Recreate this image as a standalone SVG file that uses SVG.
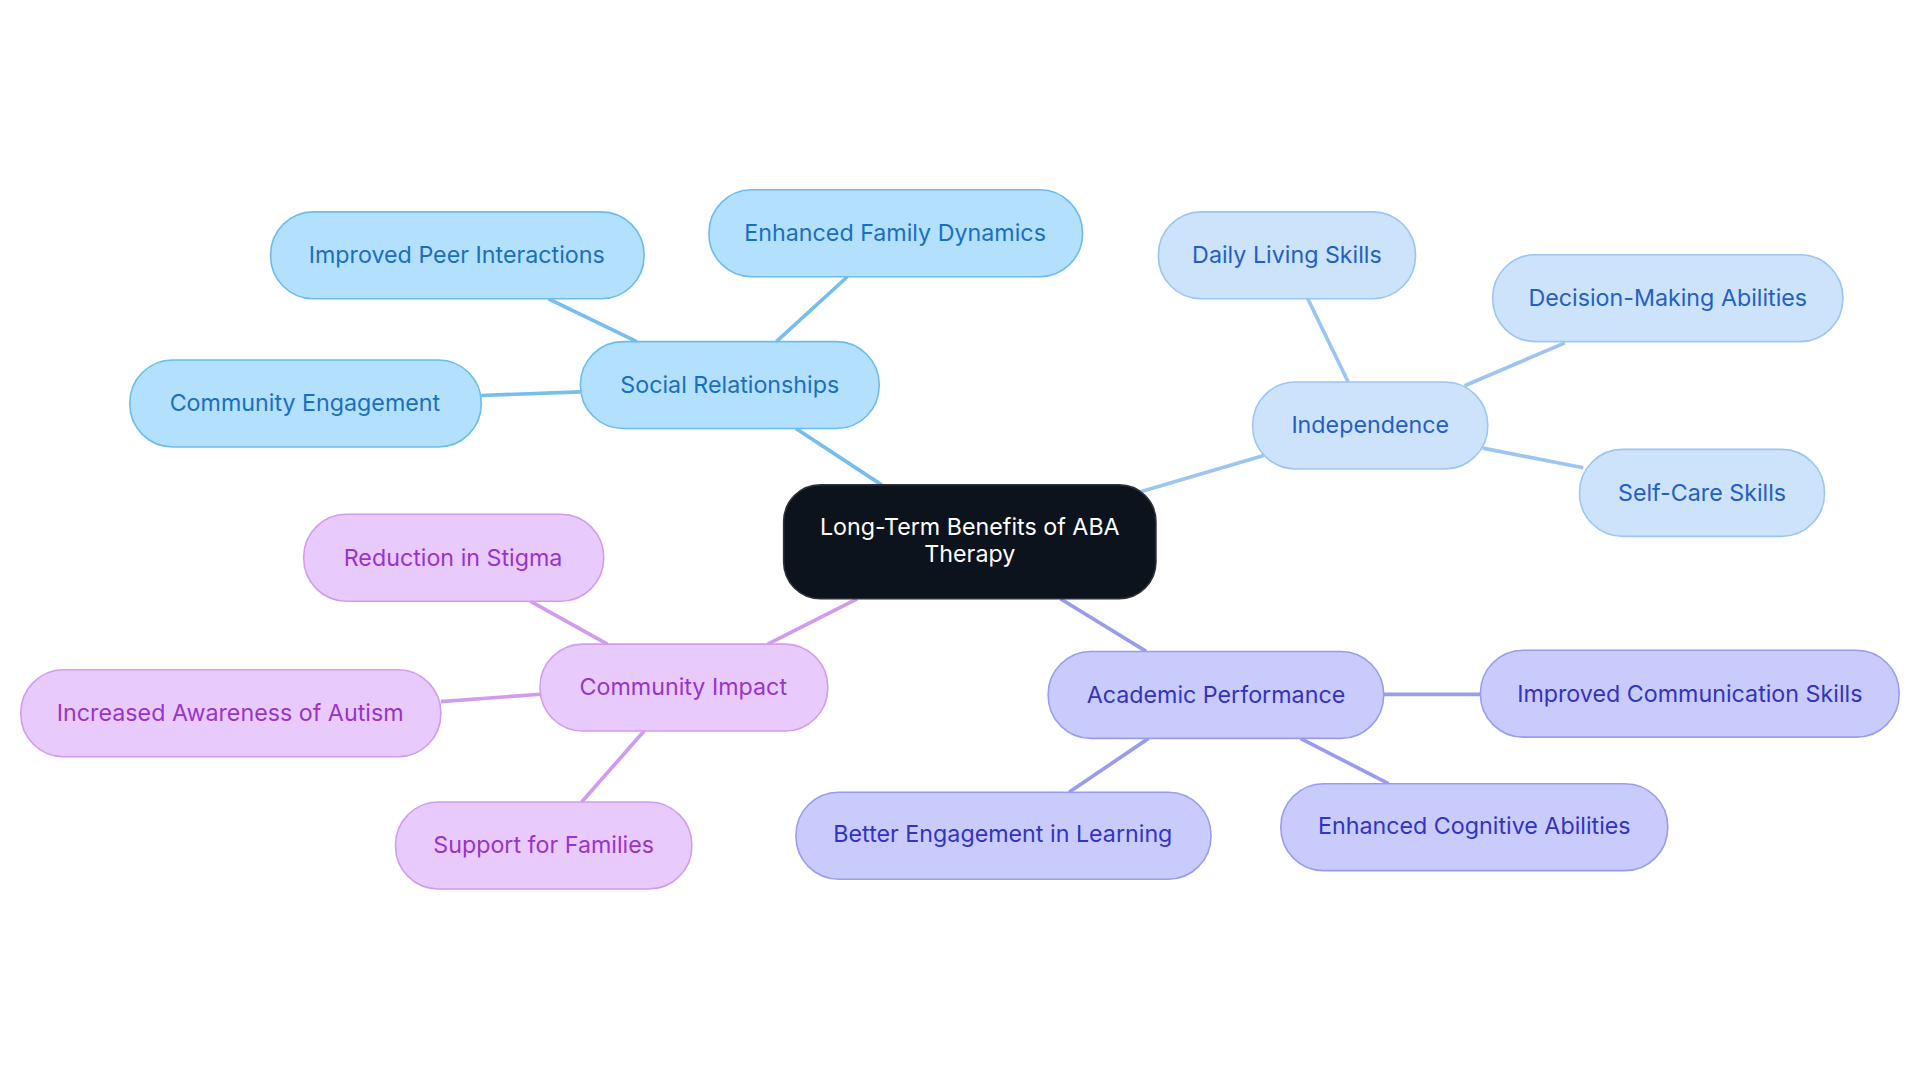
<svg xmlns="http://www.w3.org/2000/svg" width="1920" height="1083" viewBox="0 0 1920 1083">
<style>
text{font-family:Inter,"Noto Sans",sans-serif;font-size:19px;text-anchor:middle;dominant-baseline:central}
rect{stroke-width:1.3}
.s rect{fill:#b3e0fc;stroke:#6bbcef}.s text{fill:#1a6fbf}
.i rect{fill:#cce3fb;stroke:#9cc5f2}.i text{fill:#2460c4}
.a rect{fill:#c9cbfc;stroke:#9a9cf0}.a text{fill:#3333c2}
.c rect{fill:#e8cbfc;stroke:#d19cf0}.c text{fill:#9a33cc}
#edges line{stroke-width:3}
</style>
<rect width="1920" height="1083" fill="#fff"/>
<g transform="scale(1.2245)">
<g id="edges">
<g stroke="#77bdee"><line x1="720" y1="396" x2="650" y2="350"/><line x1="634" y1="279" x2="692" y2="226"/><line x1="520" y1="279" x2="448" y2="244"/><line x1="474" y1="320" x2="393" y2="323"/></g>
<g stroke="#9cc5f2"><line x1="930" y1="402" x2="1032" y2="372"/><line x1="1101" y1="312" x2="1068" y2="244"/><line x1="1196" y1="315" x2="1278" y2="280"/><line x1="1211" y1="366" x2="1293" y2="382"/></g>
<g stroke="#9a9cf0"><line x1="936" y1="532" x2="866" y2="489"/><line x1="1130" y1="567" x2="1209" y2="567"/><line x1="938" y1="603" x2="873" y2="647"/><line x1="1062" y1="603" x2="1134" y2="640"/></g>
<g stroke="#d19cf0"><line x1="700" y1="489" x2="627" y2="526"/><line x1="496" y1="526" x2="433" y2="491"/><line x1="441" y1="567" x2="360" y2="573"/><line x1="526" y1="597" x2="475" y2="655"/></g>
</g>
<g id="center"><rect x="640" y="396" width="304" height="93" rx="30" fill="#0d131c" stroke="#2a2f38"/><text x="792" y="430" fill="#fff">Long-Term Benefits of ABA</text><text x="792" y="452" fill="#fff">Therapy</text></g>
<g id="social" class="s"><rect x="474" y="279" width="244" height="71" rx="35"/><text x="596" y="314">Social Relationships</text></g>
<g id="peer" class="s"><rect x="221" y="173" width="305" height="71" rx="35"/><text x="373" y="208">Improved Peer Interactions</text></g>
<g id="family" class="s"><rect x="579" y="155" width="305" height="71" rx="35"/><text x="731" y="190">Enhanced Family Dynamics</text></g>
<g id="commeng" class="s"><rect x="106" y="294" width="287" height="71" rx="35"/><text x="249" y="329">Community Engagement</text></g>
<g id="indep" class="i"><rect x="1023" y="312" width="192" height="71" rx="35"/><text x="1119" y="347">Independence</text></g>
<g id="daily" class="i"><rect x="946" y="173" width="210" height="71" rx="35"/><text x="1051" y="208">Daily Living Skills</text></g>
<g id="decision" class="i"><rect x="1219" y="208" width="286" height="71" rx="35"/><text x="1362" y="243">Decision-Making Abilities</text></g>
<g id="selfcare" class="i"><rect x="1290" y="367" width="200" height="71" rx="35"/><text x="1390" y="402">Self-Care Skills</text></g>
<g id="academic" class="a"><rect x="856" y="532" width="274" height="71" rx="35"/><text x="993" y="567">Academic Performance</text></g>
<g id="comm" class="a"><rect x="1209" y="531" width="342" height="71" rx="35"/><text x="1380" y="566">Improved Communication Skills</text></g>
<g id="cognitive" class="a"><rect x="1046" y="640" width="316" height="71" rx="35"/><text x="1204" y="674">Enhanced Cognitive Abilities</text></g>
<g id="learning" class="a"><rect x="650" y="647" width="339" height="71" rx="35"/><text x="819" y="681">Better Engagement in Learning</text></g>
<g id="impact" class="c"><rect x="441" y="526" width="235" height="71" rx="35"/><text x="558" y="561">Community Impact</text></g>
<g id="stigma" class="c"><rect x="248" y="420" width="245" height="71" rx="35"/><text x="370" y="455">Reduction in Stigma</text></g>
<g id="awareness" class="c"><rect x="17" y="547" width="343" height="71" rx="35"/><text x="188" y="582">Increased Awareness of Autism</text></g>
<g id="support" class="c"><rect x="323" y="655" width="242" height="71" rx="35"/><text x="444" y="690">Support for Families</text></g>
</g>
</svg>
